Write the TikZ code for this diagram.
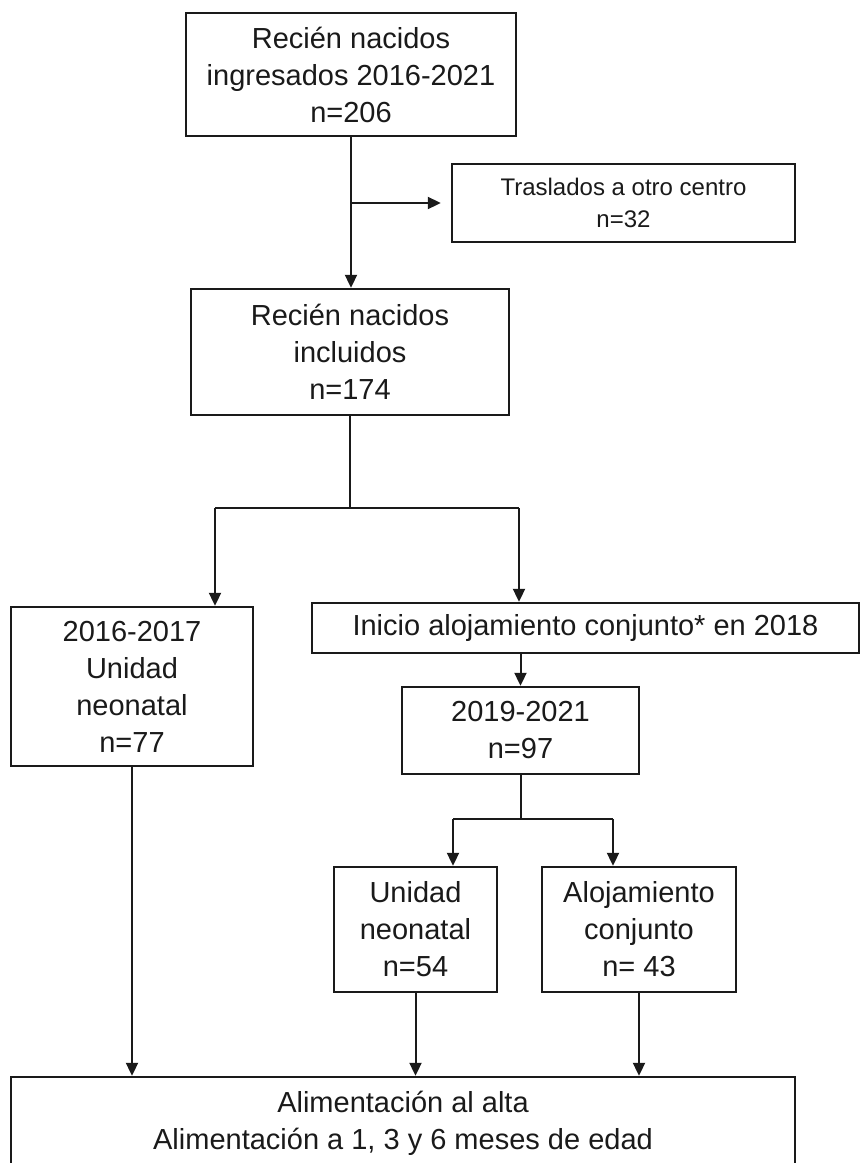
\documentclass[tikz,border=0pt]{standalone}
\usepackage{fontspec}
\setmainfont{Liberation Sans}
\usetikzlibrary{arrows.meta}
\definecolor{ink}{HTML}{1A1A1A}

\begin{document}
\begin{tikzpicture}[x=1pt,y=-1pt,font=\fontsize{29}{37}\selectfont,
  box/.style={draw=ink,line width=2.4pt,align=center,inner sep=0pt,text=ink},
  link/.style={draw=ink,line width=2pt},
  >={Triangle[length=13pt,width=12pt]}]
  \path[use as bounding box,fill=white] (0,0) rectangle (861,1163);
  % boxes
  \node[box,minimum width=330pt,minimum height=123pt] (admit) at (351,74.5) {Recién nacidos\\ingresados 2016-2021\\n=206};
  \node[box,font=\fontsize{24}{32}\selectfont,minimum width=343pt,minimum height=78pt] (transfer) at (623.5,203) {Traslados a otro centro\\n=32};
  \node[box,minimum width=318pt,minimum height=126pt] (incl) at (350,352) {Recién nacidos\\incluidos\\n=174};
  \node[box,minimum width=242pt,minimum height=159pt] (early) at (132,686.5) {2016-2017\\Unidad\\neonatal\\n=77};
  \node[box,minimum width=547pt,minimum height=50pt] (start) at (585.5,628) {Inicio alojamiento conjunto* en 2018};
  \node[box,minimum width=237pt,minimum height=87pt] (late) at (520.5,730.5) {2019-2021\\n=97};
  \node[box,minimum width=163pt,minimum height=125pt] (nicu) at (415.5,929.5) {Unidad\\neonatal\\n=54};
  \node[box,minimum width=194pt,minimum height=125pt] (roomin) at (639,929.5) {Alojamiento\\conjunto\\n= 43};
  \node[box,minimum width=784pt,minimum height=93pt] (outcome) at (403,1123.5) {Alimentación al alta\\Alimentación a 1, 3 y 6 meses de edad};
  % main stem and transfers out
  \draw[link,->] (admit.south) -- (admit.south |- incl.north);
  \coordinate (exit) at (admit.south |- transfer.west);
  \draw[link,->,shorten >=10pt] (exit) -- (transfer.west);
  % split by period
  \coordinate (forkL) at (215,508);
  \coordinate (forkR) at (519,508);
  \draw[link] (incl.south) -- (incl.south |- forkL);
  \draw[link] (forkL) -- (forkR);
  \draw[link,->] (forkL) -- (forkL |- early.north);
  \draw[link,->] (forkR) -- (forkR |- start.north);
  \draw[link,->] (start.south -| late.north) -- (late.north);
  % split by ward
  \coordinate (wardL) at (453,819);
  \coordinate (wardR) at (613,819);
  \draw[link] (late.south) -- (late.south |- wardL);
  \draw[link] (wardL) -- (wardR);
  \draw[link,->] (wardL) -- (wardL |- nicu.north);
  \draw[link,->] (wardR) -- (wardR |- roomin.north);
  % into follow-up
  \foreach \src in {early,nicu,roomin}{\draw[link,->] (\src.south) -- (\src.south |- outcome.north);}
\end{tikzpicture}
\end{document}
